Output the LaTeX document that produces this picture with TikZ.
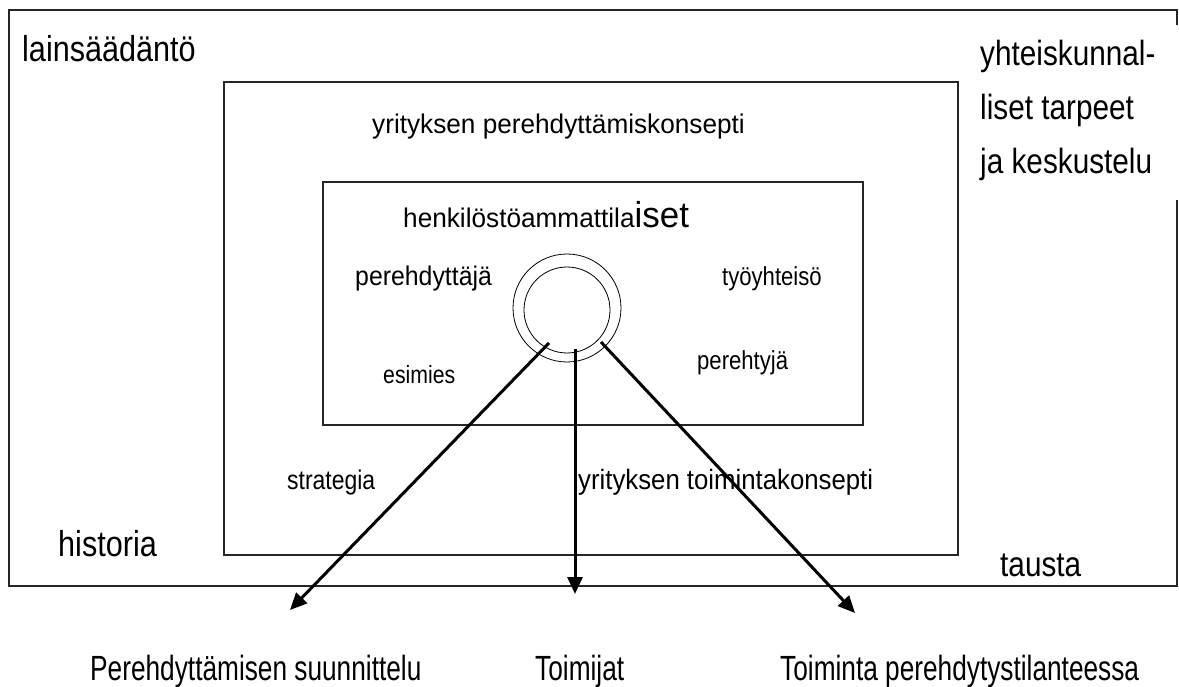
\documentclass[tikz,border=0pt]{standalone}
\usepackage{fontspec}
\setmainfont{Liberation Sans}[FakeStretch=0.85]
\newfontfamily\wideface{Liberation Sans}[FakeStretch=0.97]
\newfontfamily\midface{Liberation Sans}[FakeStretch=0.92]
\newfontfamily\narrowface{Liberation Sans}[FakeStretch=0.75]
\usetikzlibrary{arrows.meta}
\begin{document}
\begin{tikzpicture}[x=1pt,y=-1pt,
  frame/.style={line width=2pt,draw=black!85},
  ring/.style={draw,circle,line width=0.8pt,inner sep=0pt},
  lbl/.style={anchor=base west,inner sep=0pt},
  arr/.style={line width=3pt,-{Triangle[length=17pt,width=15pt]}},
]
\useasboundingbox (0,0) rectangle (1179,687);
% outer frame, its right side interrupted beside the text block
\draw[frame] (1177,25) -- (1177,10) -- (9,10) -- (9,586) -- (1177,586) -- (1177,200);
% middle and inner boxes
\draw[frame] (224,82) rectangle (958,555);
\draw[frame] (323,182) rectangle (863,425);
% the two rings
\node[ring,minimum size=108pt] (outerring) at (567,308) {};
\node[ring,minimum size=86pt] (innerring) at (567,310) {};
% texts
\node[lbl,font=\fontsize{36}{40}\selectfont] (law) at (22,62) {lainsäädäntö};
\node[lbl,font=\fontsize{35}{40}\selectfont,align=left,anchor=north west] (society) at (980,40)
  {yhteiskunnal-\\[14pt]liset tarpeet\\[14pt]ja keskustelu};
\node[lbl,font=\wideface\fontsize{27}{34}\selectfont] (concept) at (372,134) {yrityksen perehdyttämiskonsepti};
\node[lbl,font=\wideface\fontsize{27}{34}\selectfont] (hr) at (403,228) {henkilöstöammattila{\fontsize{36}{40}\selectfont iset}};
\node[lbl,font=\midface\fontsize{27}{32}\selectfont] (mentor) at (355,286) {perehdyttäjä};
\node[lbl,font=\fontsize{26}{32}\selectfont] (community) at (722,286) {työyhteisö};
\node[lbl,font=\fontsize{25}{32}\selectfont] (boss) at (383,383) {esimies};
\node[lbl,font=\fontsize{26}{32}\selectfont] (newcomer) at (697,370) {perehtyjä};
\node[lbl,font=\fontsize{27}{32}\selectfont] (strategy) at (287,489) {strategia};
\node[lbl,font=\midface\fontsize{28}{32}\selectfont] (business) at (578,489) {yrityksen toimintakonsepti};
\node[lbl,font=\fontsize{36}{40}\selectfont] (history) at (58,556) {historia};
\node[lbl,font=\fontsize{35}{40}\selectfont] (background) at (1000,576) {tausta};
\node[lbl,font=\narrowface\fontsize{35}{40}\selectfont] (planning) at (90,680) {Perehdyttämisen suunnittelu};
\node[lbl,font=\narrowface\fontsize{35}{40}\selectfont] (actors) at (535,680) {Toimijat};
\node[lbl,font=\narrowface\fontsize{35}{40}\selectfont] (action) at (780,680) {Toiminta perehdytystilanteessa};
% arrows leaving the rings
\coordinate (startL) at (549,343);
\coordinate (startM) at (575,349);
\coordinate (startR) at (601,342);
\coordinate (endL) at (290,610);
\coordinate (endM) at (575,594);
\coordinate (endR) at (855,613);
\draw[arr] (startL) -- (endL);
\draw[arr] (startM) -- (endM);
\draw[arr] (startR) -- (endR);
\end{tikzpicture}
\end{document}
